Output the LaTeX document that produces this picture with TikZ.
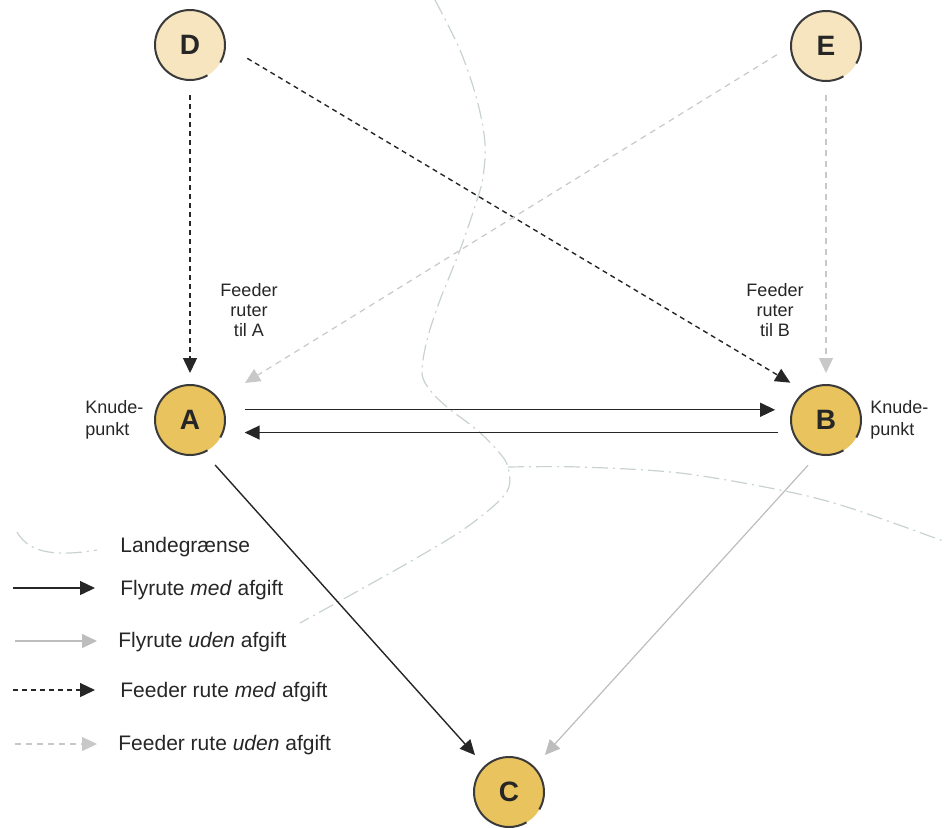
\documentclass[tikz,border=0pt]{standalone}
\usepackage{fontspec}
\setmainfont{Liberation Sans}
\usetikzlibrary{arrows.meta,calc}

\definecolor{ink}{HTML}{262626}
\definecolor{ring}{HTML}{3A3A3A}
\definecolor{hubfill}{HTML}{E8C35E}
\definecolor{feedfill}{HTML}{F6E5BE}
\definecolor{pale}{HTML}{BDBDBD}
\definecolor{palefeed}{HTML}{C8C8C8}
\definecolor{frontiercol}{HTML}{C8D2D1}

\tikzset{
  airport/.style={circle, minimum size=35pt, inner sep=0pt, outer sep=0pt,
    font=\fontsize{14}{14}\selectfont\bfseries, text=ink},
  hub/.style={airport, fill=hubfill},
  feeder/.style={airport, fill=feedfill},
  ringline/.style={draw=ring, line width=1pt},
  tip/.style={-{Triangle[length=7.5pt,width=7pt]}},
  taxed/.style={tip, draw=ink, line width=0.7pt},
  untaxed/.style={tip, draw=pale, line width=0.6pt},
  feedtaxed/.style={tip, draw=ink, line width=0.7pt, dash pattern=on 2.5pt off 2pt},
  feeduntaxed/.style={tip, draw=palefeed, line width=0.6pt, dash pattern=on 3pt off 2.5pt},
  frontier/.style={draw=frontiercol, line width=0.6pt,
    dash pattern=on 8pt off 2.5pt on 1pt off 2.5pt},
  note/.style={font=\fontsize{9}{10}\selectfont, text=ink, align=center},
  hubnote/.style={font=\fontsize{9}{11}\selectfont, text=ink, align=left,
    anchor=west, inner sep=0pt},
  keytext/.style={font=\fontsize{10.5}{12}\selectfont, text=ink, anchor=west, inner sep=0pt}
}

\begin{document}
\begin{tikzpicture}[x=0.5pt, y=-0.5pt]
\useasboundingbox (0,0) rectangle (946,827);

% national border
\draw[frontier] plot[smooth, tension=0.55] coordinates {
  (435,0) (460,50) (477,100) (485,143) (483,177) (477,200) (460,250)
  (440,300) (427,340) (422,373) (430,390) (447,407) (477,430) (497,450)
  (508,467) (506,493) (467,527) (413,560) (347,597) (300,623)};
\draw[frontier] plot[smooth, tension=0.55] coordinates {
  (508,467) (580,467) (680,473) (780,490) (847,507) (946,542)};

% airports
\node[feeder] (D) at (190,45) {D};
\node[feeder] (E) at (826,46) {E};
\node[hub] (A) at (190,420) {A};
\node[hub] (B) at (826,420) {B};
\node[hub] (C) at (509,792) {C};
\foreach \n in {D,E,A,B,C}
  \draw[ringline, shift={(\n.center)}] (-30:17.5pt) arc[start angle=-30, end angle=300, radius=17.5pt];

% feeder routes
\draw[feedtaxed, shorten <=7.5pt, shorten >=6pt] (D.south) -- (A.north);
\draw[feedtaxed, shorten <=13pt, shorten >=8.8pt] (D.east) -- (B.126);
\draw[feeduntaxed, shorten <=8.3pt, shorten >=15.7pt] (E.180) -- (A.36);
\draw[feeduntaxed, shorten <=7pt, shorten >=6pt] (E.south) -- (B.north);

% flight routes
\draw[taxed, shorten <=10.7pt, shorten >=8.7pt] (A.17) -- (B.163);
\draw[taxed, shorten <=7.5pt, shorten >=11pt] (B.-159) -- (A.-21);
\draw[taxed, shorten <=8.6pt, shorten >=7.6pt] (A.-67.7) -- (C.133);
\draw[untaxed, shorten <=7.5pt, shorten >=8.3pt] (B.257.6) -- (C.45);

% labels
\node[note] (fa) at (249,310) {Feeder\\ruter\\til A};
\node[note] (fb) at (775,310) {Feeder\\ruter\\til B};
\node[hubnote] (ka) at (85,420) {Knude-\\punkt};
\node[hubnote] (kb) at (870,420) {Knude-\\punkt};

% legend
\coordinate (k0a) at (17,532);
\coordinate (k0b) at (97,550);
\draw[frontier] (k0a) .. controls (30,555) and (60,556) .. (k0b);
\node[keytext] (t0) at (120,547) {Landegrænse};

\coordinate (k1a) at (13,588);
\coordinate (k1b) at (95,588);
\draw[taxed] (k1a) -- (k1b);
\node[keytext] (t1) at (120,590) {Flyrute \textit{med} afgift};

\coordinate (k2a) at (15,641);
\coordinate (k2b) at (97,641);
\draw[untaxed] (k2a) -- (k2b);
\node[keytext] (t2) at (118,642) {Flyrute \textit{uden} afgift};

\coordinate (k3a) at (13,690);
\coordinate (k3b) at (95,690);
\draw[feedtaxed] (k3a) -- (k3b);
\node[keytext] (t3) at (120,692) {Feeder rute \textit{med} afgift};

\coordinate (k4a) at (15,744);
\coordinate (k4b) at (97,744);
\draw[feeduntaxed] (k4a) -- (k4b);
\node[keytext] (t4) at (118,745) {Feeder rute \textit{uden} afgift};
\end{tikzpicture}
\end{document}
